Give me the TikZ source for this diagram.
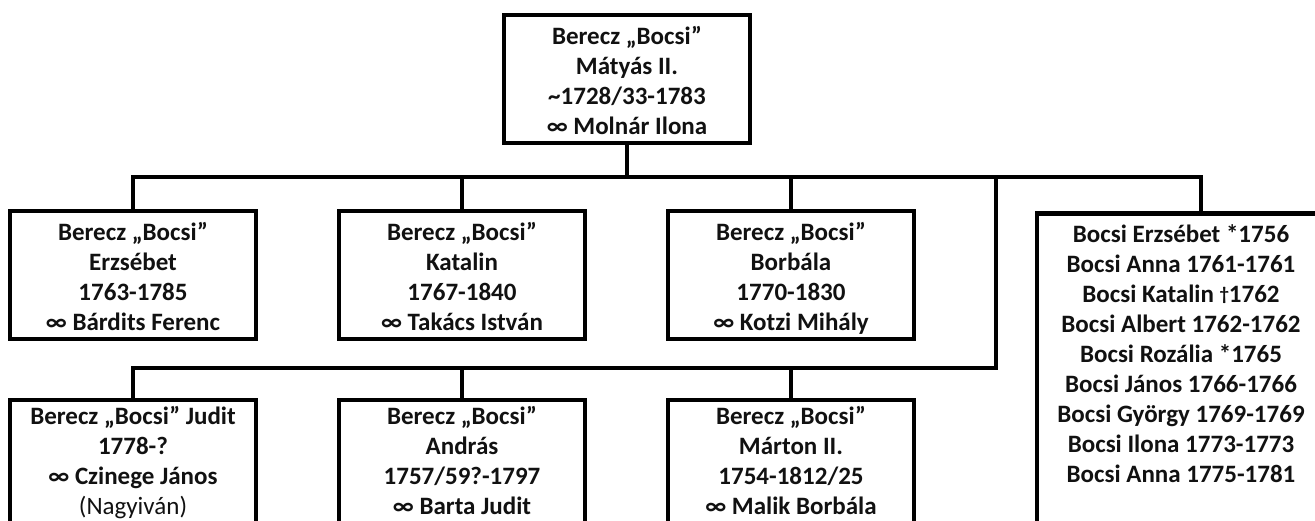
\documentclass[tikz,border=0pt]{standalone}
\usepackage{fontspec}
\setmainfont{Carlito}
\definecolor{ink}{HTML}{111111}
\newcommand{\fstrut}{\rule{0pt}{29pt}}
\newcommand{\gstrut}{\rule{0pt}{23pt}}
\newcommand{\lstrut}{\rule[-9pt]{0pt}{9pt}}
\begin{document}
\begin{tikzpicture}[x=1pt,y=-1pt,
  conn/.style={draw=black,line width=4.5pt,line join=miter},
  person/.style={draw=black,line width=4.5pt,minimum width=246pt,minimum height=124pt,
    align=center,inner sep=0pt,text=ink,font={\fontsize{25}{30}\selectfont\bfseries}},
  listtext/.style={align=center,inner sep=0pt,text=ink,font={\fontsize{25}{30}\selectfont\bfseries}}]
\useasboundingbox (0,0) rectangle (1315,520);
\clip (0,0) rectangle (1315,520);
\fill[white] (0,0) rectangle (1315,520);
% top
\node[person,minimum height=125pt] (top) at (627,79) {\fstrut Berecz „Bocsi”\\Mátyás II.\\\char`~1728/33-1783\\∞ Molnár Ilona\lstrut};
% row 1
\node[person] (a1) at (133,275) {\fstrut Berecz „Bocsi”\\Erzsébet\\1763-1785\\∞ Bárdits Ferenc\lstrut};
\node[person] (a2) at (462,275) {\fstrut Berecz „Bocsi”\\Katalin\\1767-1840\\∞ Takács István\lstrut};
\node[person] (a3) at (791,275) {\fstrut Berecz „Bocsi”\\Borbála\\1770-1830\\∞ Kotzi Mihály\lstrut};
% right list box
\node[draw=black,line width=4.5pt,minimum width=288pt,minimum height=340pt,anchor=north,inner sep=0pt] (rbox) at (1181,211) {};
\node[listtext,anchor=north] (rtext) at (1181,221) {\strut Bocsi Erzsébet *1756\\Bocsi Anna 1761-1761\\Bocsi Katalin \raisebox{2pt}{\scalebox{0.75}{†}}1762\\Bocsi Albert 1762-1762\\Bocsi Rozália *1765\\Bocsi János 1766-1766\\Bocsi György 1769-1769\\Bocsi Ilona 1773-1773\\Bocsi Anna 1775-1781};
% row 2
\node[person] (b1) at (133,462) {\gstrut Berecz „Bocsi” Judit\\1778-?\\∞ Czinege János\\{\mdseries (Nagyiván)}\lstrut};
\node[person] (b2) at (462,462) {\gstrut Berecz „Bocsi”\\András\\1757/59?-1797\\∞ Barta Judit\lstrut};
\node[person] (b3) at (791,462) {\gstrut Berecz „Bocsi”\\Márton II.\\1754-1812/25\\∞ Malik Borbála\lstrut};
% junctions
\coordinate (j1) at (627,177);
\coordinate (rtop) at (1201,211);
\coordinate (j2) at (996,177);
\coordinate (j3) at (996,368);
% connectors
\draw[conn] (top.south) -- (j1);
\draw[conn] (a1.north) -- (a1.north |- j1) -- (rtop |- j1) -- (rtop);
\draw[conn] (a2.north) -- (a2.north |- j1);
\draw[conn] (a3.north) -- (a3.north |- j1);
\draw[conn] (j2) -- (j3) -- (b1.north |- j3) -- (b1.north);
\draw[conn] (b2.north) -- (b2.north |- j3);
\draw[conn] (b3.north) -- (b3.north |- j3);
\end{tikzpicture}
\end{document}
